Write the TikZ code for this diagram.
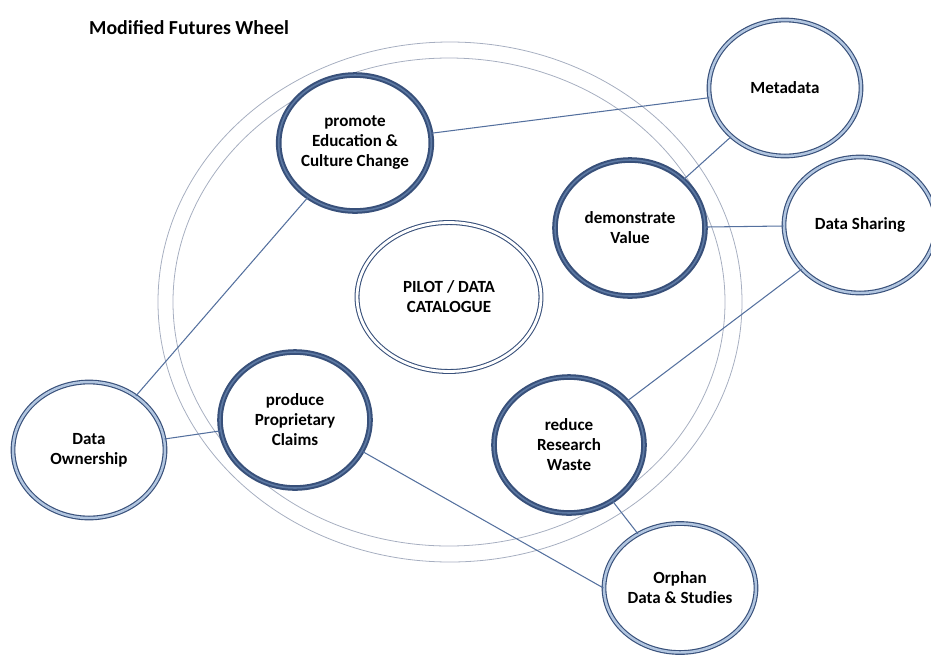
\documentclass[tikz,border=0pt]{standalone}
\usepackage{fontspec}
\setmainfont{Carlito}
\usepackage{tikz}
\usetikzlibrary{shapes.geometric}

\definecolor{kreisdunkel}{RGB}{56,80,122}
\definecolor{kreismittel}{RGB}{92,120,162}
\definecolor{kreishell}{RGB}{178,198,224}
\definecolor{radgrau}{RGB}{166,174,192}
\definecolor{linie}{RGB}{84,112,158}

\begin{document}
\begin{tikzpicture}
		[
		x=0.02cm, y=-0.02cm, font=\bfseries\fontsize{9.7}{11.4}\selectfont,
		%Voreinstellung für die Kreise
		wirkung/.style={ellipse, draw=kreisdunkel, line width=1.15pt, double=kreismittel, double distance=0.9pt, fill=white, align=center, inner sep=0pt, minimum width=3.0cm, minimum height=2.72cm},
		folge/.style={ellipse, draw=kreisdunkel, line width=0.65pt, double=kreishell, double distance=1.4pt, fill=white, align=center, inner sep=0pt, minimum width=3.04cm, minimum height=2.72cm},
		mitte/.style={ellipse, draw=kreisdunkel, line width=0.6pt, double=white, double distance=1.6pt, fill=white, align=center, inner sep=0pt, minimum width=3.68cm, minimum height=2.98cm},
		verbindung/.style={draw=linie, line width=0.6pt}
		]
		
		%Rahmen
		\useasboundingbox (0,0) rectangle (931,657);
		
		%Überschrift
		\node[anchor=west, font=\bfseries\fontsize{11.3}{13}\selectfont] (titel) at (83,28) {Modified Futures Wheel};
		
		%das Rad (zwei Ringe)
		\draw[radgrau, line width=0.45pt] (450,302) ellipse [x radius=292, y radius=260];
		\draw[radgrau, line width=0.45pt] (449,302) ellipse [x radius=276, y radius=244];
		
		%Mitte
		\node[mitte] (pilot) at (449,297) {PILOT / DATA\\CATALOGUE};
		
		%innerer Kreis
		\node[wirkung] (promote) at (355,143) {promote\\Education \&\\Culture Change};
		\node[wirkung] (demo) at (630,228) {demonstrate\\Value};
		\node[wirkung] (produce) at (295,420) {produce\\Proprietary\\Claims};
		\node[wirkung] (reduce) at (569,445) {reduce\\Research\\Waste};
		
		%äußerer Kreis
		\node[folge] (meta) at (785,88) {Metadata};
		\node[folge] (sharing) at (860,225) {Data Sharing};
		\node[folge] (owner) at (89,450) {Data\\Ownership};
		\node[folge, minimum height=2.58cm] (orphan) at (680,588) {Orphan\\Data \& Studies};
		
		%Verbindungen
		\draw[verbindung] (promote) -- (meta);
		\draw[verbindung] (promote) -- (owner);
		\draw[verbindung] (demo) -- (meta);
		\draw[verbindung] (demo) -- (sharing);
		\draw[verbindung] (reduce) -- (sharing);
		\draw[verbindung] (reduce) -- (orphan);
		\draw[verbindung] (produce.-25) -- (orphan.west);
		\draw[verbindung] (produce) -- (owner);
		
\end{tikzpicture}
\end{document}
